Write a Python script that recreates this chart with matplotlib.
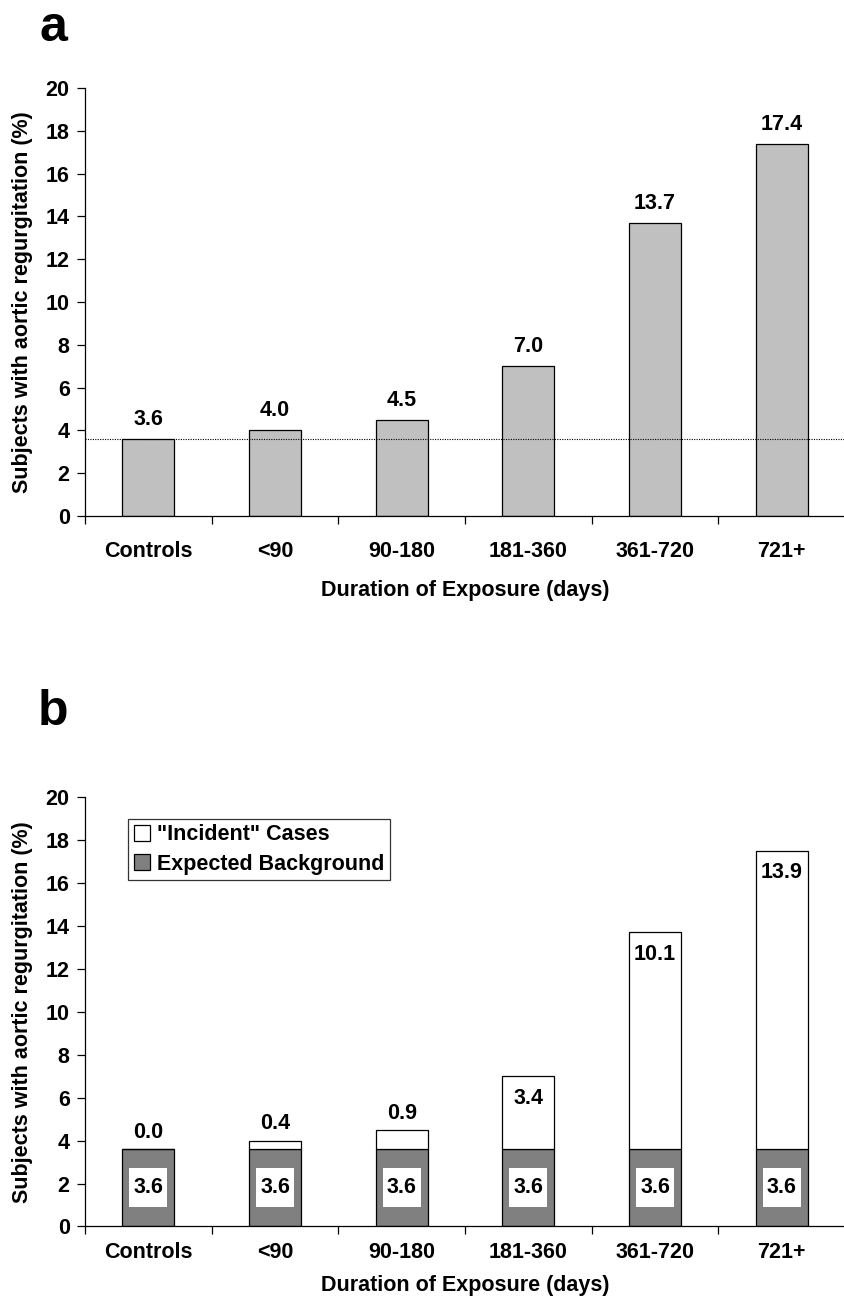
import matplotlib
import matplotlib.pyplot as plt
import numpy as np
from matplotlib.patches import Patch

matplotlib.use("Agg")
plt.rcParams["font.family"] = ["Liberation Sans", "DejaVu Sans"]
plt.rcParams["font.weight"] = "bold"

# data
categories = ["Controls", "<90", "90-180", "181-360", "361-720", "721+"]
total_pct = [3.6, 4.0, 4.5, 7.0, 13.7, 17.4]
background_pct = [3.6, 3.6, 3.6, 3.6, 3.6, 3.6]
incident_pct = [0.0, 0.4, 0.9, 3.4, 10.1, 13.9]
control_level = 3.6

FS = 15.5
x = np.arange(len(categories))

fig = plt.figure(figsize=(8.45, 13.01), dpi=100)
ax_a = fig.add_axes([0.1006, 0.6034, 0.8994, 0.3290])
ax_b = fig.add_axes([0.1006, 0.0573, 0.8994, 0.3301])


def style_axes(ax, label_pad, xlabel_pad):
    ax.set_xlim(-0.5, len(categories) - 0.5)
    ax.set_ylim(0, 20)
    ax.set_yticks(np.arange(0, 21, 2))
    for side in ("top", "right"):
        ax.spines[side].set_visible(False)
    for side in ("left", "bottom"):
        ax.spines[side].set_linewidth(0.9)
    # boundary ticks (unlabelled) and category labels on minor ticks
    ax.set_xticks(np.arange(-0.5, len(categories), 1.0))
    ax.set_xticklabels([])
    ax.set_xticks(x, minor=True)
    ax.set_xticklabels(categories, minor=True, fontsize=FS, fontweight="bold")
    ax.tick_params(axis="x", which="major", direction="out", length=6, width=0.9)
    ax.tick_params(axis="x", which="minor", length=0, pad=label_pad)
    ax.tick_params(axis="y", direction="out", length=6, width=0.9, pad=5,
                   labelsize=FS)
    for t in ax.get_yticklabels():
        t.set_fontweight("bold")
    ax.set_xlabel("Duration of Exposure (days)", fontsize=FS, fontweight="bold",
                  labelpad=xlabel_pad)
    ax.set_ylabel("Subjects with aortic regurgitation (%)", fontsize=FS,
                  fontweight="bold", labelpad=9)


# panel a
ax_a.bar(x, total_pct, width=0.41, color="#C0C0C0", edgecolor="black",
         linewidth=0.9, zorder=2)
ax_a.axhline(control_level, color="black", linestyle=(0, (1, 1.2)),
             linewidth=0.8, zorder=3)
for xi, v in zip(x, total_pct):
    ax_a.annotate(f"{v:.1f}", (xi, v), xytext=(0, 14), textcoords="offset points",
                  ha="center", va="center", fontsize=FS, fontweight="bold")
style_axes(ax_a, label_pad=18, xlabel_pad=13)

# panel b
ax_b.bar(x, background_pct, width=0.41, color="#808080", edgecolor="black",
         linewidth=0.9, zorder=2, label="Expected Background")
ax_b.bar(x, incident_pct, bottom=background_pct, width=0.41, color="white",
         edgecolor="black", linewidth=0.9, zorder=2, label='"Incident" Cases')
# white boxes behind background labels
ax_b.bar(x, np.array(background_pct) / 2, bottom=np.array(background_pct) / 4,
         width=0.30, color="white", linewidth=0, zorder=3)
for xi, b, v in zip(x, background_pct, incident_pct):
    ax_b.text(xi, b / 2, f"{b:.1f}", ha="center", va="center", fontsize=FS,
              fontweight="bold", zorder=4)
    top = b + v
    if v > 2:
        ax_b.annotate(f"{v:.1f}", (xi, top), xytext=(0, -16),
                      textcoords="offset points", ha="center", va="center",
                      fontsize=FS, fontweight="bold", zorder=4)
    else:
        ax_b.annotate(f"{v:.1f}", (xi, top), xytext=(0, 12),
                      textcoords="offset points", ha="center", va="center",
                      fontsize=FS, fontweight="bold", zorder=4)
style_axes(ax_b, label_pad=11, xlabel_pad=9)

handles = [Patch(facecolor="white", edgecolor="black", linewidth=0.9),
           Patch(facecolor="#808080", edgecolor="black", linewidth=0.9)]
leg = ax_b.legend(handles, ['"Incident" Cases', "Expected Background"],
                  loc="upper left", bbox_to_anchor=(0.057, 0.949),
                  borderaxespad=0, frameon=True, fancybox=False,
                  handlelength=0.75, handleheight=0.75, handletextpad=0.35,
                  borderpad=0.25, labelspacing=0.4,
                  prop={"weight": "bold", "size": FS})
leg.get_frame().set_edgecolor("black")
leg.get_frame().set_linewidth(0.9)

fig.text(53 / 845, 1 - 28 / 1301, "a", fontsize=36, fontweight="bold",
         ha="center", va="center")
fig.text(53 / 845, 1 - 712 / 1301, "b", fontsize=36, fontweight="bold",
         ha="center", va="center")

fig.savefig("out.png", dpi=100)
